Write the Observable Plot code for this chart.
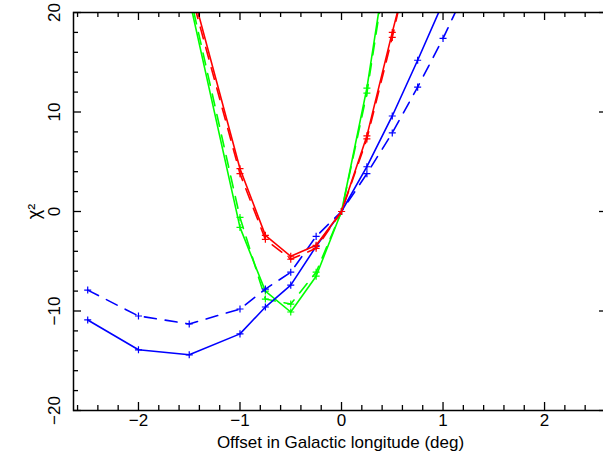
<!DOCTYPE html>
<html>
<head>
<meta charset="utf-8">
<script src="https://cdn.jsdelivr.net/npm/d3@7"></script>
<script src="https://cdn.jsdelivr.net/npm/@observablehq/plot@0.6"></script>
<style>
  html, body { margin: 0; padding: 0; background: #fff; }
  svg { overflow: hidden; }
</style>
</head>
<body>
<div id="chart"></div>
<script>
// ---- Data ----
const blueX        = [-2.5, -2, -1.5, -1, -0.75, -0.5, -0.25, 0, 0.25, 0.5, 0.75, 1];
const blueSolid    = [-10.9, -13.9, -14.4, -12.3, -9.6, -7.4, -3.5, 0, 4.5, 9.6, 15.2, 21.0];
const blueDashX    = [-2.5, -2, -1.5, -1, -0.75, -0.5, -0.25, 0, 0.25, 0.5, 0.75, 1, 1.25];
const blueDashed   = [-7.9, -10.5, -11.3, -9.8, -7.8, -6.1, -2.5, 0, 3.8, 7.9, 12.5, 17.4, 22.8];
const redX         = [-1.5, -1, -0.75, -0.5, -0.25, 0, 0.25, 0.5, 0.75];
const redSolid     = [23.3, 4.3, -2.4, -4.5, -3.4, 0, 7.6, 18.0, 28.0];
const redDashed    = [22.6, 3.8, -2.8, -4.8, -3.7, 0, 7.3, 17.5, 28.8];
const greenX       = [-1.5, -1, -0.75, -0.5, -0.25, 0, 0.25, 0.5];
const greenSolid   = [21.4, -1.6, -8.0, -10.1, -6.5, 0, 12.4, 28.9];
const greenDashed  = [22.1, -0.6, -8.8, -9.3, -6.1, 0, 11.9, 28.4];

const xMajor = [-2, -1, 0, 1, 2];
const yMajor = [-20, -10, 0, 10, 20];
const xMinor = d3.range(-26, 27, 2).map(d => d / 10).filter(d => !Number.isInteger(d));
const yMinor = d3.range(-18, 19, 2).filter(d => d % 10 !== 0);

const xLabel = "Offset in Galactic longitude (deg)";
const yLabel = "χ²";

// ---- Build series table ----
function series(xs, ys, color, dashed) {
  return xs.map((x, i) => ({x, y: ys[i], color, dashed}));
}
const seriesList = [
  series(greenX, greenSolid, "#00ff00", false),
  series(greenX, greenDashed, "#00ff00", true),
  series(blueX, blueSolid, "#0000ff", false),
  series(blueDashX, blueDashed, "#0000ff", true),
  series(redX, redSolid, "#ff0000", false),
  series(redX, redDashed, "#ff0000", true)
];

const W = 603, H = 463;
const mT = 12, mB = 53, mL = 73, mR = -4;
const plotW = W - mL - mR, plotH = H - mT - mB;
const fmt = d => (d < 0 ? "\u2212" + (-d) : String(d));

const marks = [];
for (const s of seriesList) {
  marks.push(Plot.line(s, {
    x: "x", y: "y", stroke: s[0].color, strokeWidth: 1.6,
    strokeDasharray: s[0].dashed ? "12,9" : null, clip: true
  }));
  marks.push(Plot.dot(s, {
    x: "x", y: "y", symbol: "plus", r: 2.4, stroke: s[0].color, strokeWidth: 1.2, clip: true
  }));
}

// frame + inward ticks
marks.push(Plot.frame({stroke: "black", strokeWidth: 1.5}));
marks.push(Plot.tickX(xMajor, {x: d => d, insetTop: plotH - 8, stroke: "black", strokeWidth: 1.3}));
marks.push(Plot.tickX(xMinor, {x: d => d, insetTop: plotH - 5, stroke: "black", strokeWidth: 1.3}));
marks.push(Plot.tickX(xMajor, {x: d => d, insetBottom: plotH - 8, stroke: "black", strokeWidth: 1.3}));
marks.push(Plot.tickX(xMinor, {x: d => d, insetBottom: plotH - 5, stroke: "black", strokeWidth: 1.3}));
marks.push(Plot.tickY(yMajor, {y: d => d, insetRight: plotW - 8, stroke: "black", strokeWidth: 1.3}));
marks.push(Plot.tickY(yMinor, {y: d => d, insetRight: plotW - 5, stroke: "black", strokeWidth: 1.3}));
marks.push(Plot.tickY(yMajor, {y: d => d, insetLeft: plotW - 8, stroke: "black", strokeWidth: 1.3}));

// tick labels
marks.push(Plot.text(xMajor, {x: d => d, frameAnchor: "bottom", dy: 15, text: fmt, fill: "black"}));
marks.push(Plot.text(yMajor, {y: d => d, frameAnchor: "left", dx: -19, rotate: -90, text: fmt, fill: "black", textAnchor: "middle"}));
// axis titles
marks.push(Plot.text([xLabel], {frameAnchor: "bottom", dy: 37, text: d => d, fill: "black"}));
marks.push(Plot.text([yLabel], {frameAnchor: "left", dx: -39, rotate: -90, text: d => d, fill: "black", textAnchor: "middle", fontSize: 18}));

const chart = Plot.plot({
  width: W, height: H,
  marginTop: mT, marginBottom: mB, marginLeft: mL, marginRight: mR,
  x: {domain: [-2.64, 2.62], axis: null},
  y: {domain: [-20, 20], axis: null},
  style: {fontFamily: "'Liberation Sans', Arial, sans-serif", fontSize: "17px", background: "white", color: "black"},
  marks
});
document.getElementById("chart").appendChild(chart);
</script>
</body>
</html>
